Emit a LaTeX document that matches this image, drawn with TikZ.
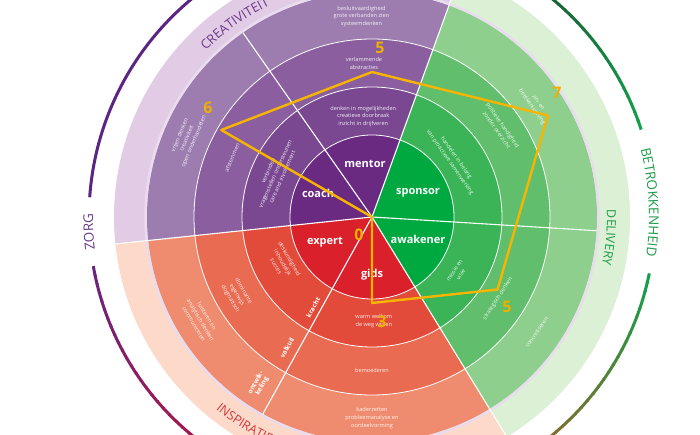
\documentclass[tikz,border=0pt]{standalone}
\usepackage{fontspec}
\setmainfont{Open Sans}
\usetikzlibrary{decorations.text}

\definecolor{purpleA}{HTML}{6A2A82}
\definecolor{purpleB}{HTML}{7A4891}
\definecolor{purpleC}{HTML}{8A5E9F}
\definecolor{purpleD}{HTML}{9D7CB0}
\definecolor{purpleE}{HTML}{E2CBE5}
\definecolor{redA}{HTML}{D9202B}
\definecolor{redB}{HTML}{E24B3A}
\definecolor{redC}{HTML}{E86B52}
\definecolor{redD}{HTML}{EF8C6F}
\definecolor{redE}{HTML}{FDD9C9}
\definecolor{greenA}{HTML}{00A940}
\definecolor{greenB}{HTML}{3BB357}
\definecolor{greenC}{HTML}{60BE6C}
\definecolor{greenD}{HTML}{8ECF8E}
\definecolor{greenE}{HTML}{DCF0D6}
\definecolor{lilacLine}{HTML}{EADCEF}
\definecolor{lineGold}{HTML}{F7B500}
\definecolor{scoreGold}{HTML}{EDB000}
\definecolor{labelPurple}{HTML}{6B3A8C}
\definecolor{labelGreen}{HTML}{1E9C48}
\definecolor{labelRed}{HTML}{D23A3C}
\definecolor{arcPurple}{HTML}{5C2483}
\definecolor{arcPlum}{HTML}{6B2480}
\definecolor{arcCrimson}{HTML}{A6174B}
\definecolor{arcDarkGreen}{HTML}{1B5E35}
\definecolor{arcGreen}{HTML}{12A04A}
\definecolor{arcOlive}{HTML}{8C6A2C}

\newcommand\wedgefill[4]{\fill[#1] (0,0) -- (#2:#4) arc (#2:#3:#4) -- cycle;}
\newcommand\bandfont{\fontsize{12.5}{12.5}\selectfont}
\newcommand\arcfont{\fontsize{13.5}{13.5}\selectfont}

\tikzset{
    % les six roles au milieu
    role/.style={font=\bfseries\fontsize{11}{11}\selectfont, text=white, inner sep=0pt},
    % les petits textes des anneaux
    ringtext/.style={font=\fontsize{5.6}{7.6}\selectfont, text=white, text opacity=0.9, align=center, inner sep=0pt},
    % kracht / valkuil / ontwikkeling
    edgeword/.style={font=\bfseries\fontsize{6.5}{7}\selectfont, text=white, align=center, inner sep=0pt},
    score/.style={font=\bfseries\fontsize{16}{16}\selectfont, text=scoreGold, inner sep=0pt},
    divider/.style={white, line width=1.1pt},
    ringline/.style={white, line width=0.8pt},
    profile/.style={draw=lineGold, line width=2.4pt, line join=round},
    outerarc/.style={line width=3pt}
}

\begin{document}
\begin{tikzpicture}[x=1pt,y=1pt]
    \useasboundingbox (-372pt,-218pt) rectangle (328pt,217pt);
    \clip (-372pt,-218pt) rectangle (328pt,217pt);

    % --- 1. Les secteurs, du plus grand au plus petit ---
    \foreach \r/\lvl in {258/E,225/D,178/C,130/B,82/A} {
        \wedgefill{purple\lvl}{70}{186}{\r pt}
        \wedgefill{red\lvl}{186}{301.5}{\r pt}
        \wedgefill{green\lvl}{301.5}{430}{\r pt}
    }

    % cercles entre les anneaux
    \foreach \r in {82,130,178} {
        \draw[ringline] (0,0) circle (\r pt);
    }
    \draw[lilacLine, line width=2.5pt] (0,0) circle (226.5pt);

    % lignes de separation
    \foreach \a in {70,186,301.5} {
        \draw[divider] (0,0) -- (\a:258pt);
    }
    \foreach \a in {125,241,356.5} {
        \draw[divider] (0,0) -- (\a:225pt);
    }

    % --- 2. Les arcs exterieurs (degrades) ---
    \draw[outerarc, arcPurple] (120:283pt) arc (120:176:283pt);
    \foreach \i in {0,...,23} {
        \pgfmathsetmacro\pct{100-100*\i/23}
        \draw[outerarc, arcPlum!\pct!arcCrimson] (190+\i*1.8:283pt) arc (190+\i*1.8:192.1+\i*1.8:283pt);
    }
    \foreach \i in {0,...,19} {
        \pgfmathsetmacro\pct{100-100*\i/19}
        \draw[outerarc, arcGreen!\pct!arcDarkGreen] (18+\i*1.8:283pt) arc (18+\i*1.8:20.1+\i*1.8:283pt);
    }
    \foreach \i in {0,...,23} {
        \pgfmathsetmacro\pct{100-100*\i/23}
        \draw[outerarc, arcGreen!\pct!arcOlive] (-11.5-\i*1.8:283pt) arc (-11.5-\i*1.8:-13.6-\i*1.8:283pt);
    }

    % --- 3. Les titres courbes ---
    \path[decorate, decoration={text along path, text color=labelPurple,
        text={|\fontsize{13}{13}\selectfont|CREATIVITEIT}}] (135:235pt) arc (135:95:235pt);
    \path[decorate, decoration={text along path, text color=labelGreen,
        text={|\bandfont|DELIVERY}, text align=center}] (12:235pt) arc (12:-22:235pt);
    \path[decorate, decoration={text along path, text color=labelRed,
        text={|\bandfont|INSPIRATIE}}] (231:248pt) arc (231:285:248pt);
    \path[decorate, decoration={text along path, text color=labelGreen,
        text={|\arcfont|BETROKKENHEID}, text align=center}] (27:277pt) arc (27:-21:277pt);
    \path[decorate, decoration={text along path, text color=labelPurple,
        text={|\arcfont|ZORG}, text align=center}] (198:279pt) arc (198:168:279pt);

    % --- 4. Les roles ---
    \node[role] (mentor)   at (-7,53)  {mentor};
    \node[role] (coach)    at (-54,24) {coach};
    \node[role] (expert)   at (-47,-25) {expert};
    \node[role] (gids)     at (0,-58)  {gids};
    \node[role] (sponsor)  at (46,24)  {sponsor};
    \node[role] (awakener) at (46,-22) {awakener};

    % --- 5. Les textes des anneaux ---
    % mentor
    \node[ringtext] (mentorB) at (95:101pt) {denken in mogelijkheden\\creatieve doorbraak\\inzicht in drijfveren};
    \node[ringtext] (mentorC) at (93:154pt) {verlammende\\abstracties};
    \node[ringtext] (mentorD) at (93:201pt) {besluitvaardigheid\\grote verbanden zien\\systeemdenken};
    % coach
    \node[ringtext, rotate=66] (coachB) at (156:106pt) {verbinden\\vragenstellen ondersteunen\\care and involvement};
    \node[ringtext, rotate=67] (coachC) at (157:152pt) {afstemmen};
    \node[ringtext, rotate=67] (coachD) at (157:201pt) {vrijen denken\\creativiteit\\open onderhandelen};
    % expert
    \node[ringtext, rotate=-60] (expertB) at (207:100pt) {deskundigheid\\inhoudelijk\\succes};
    \node[ringtext, rotate=-60] (expertC) at (210:156pt) {dominante\\eigenwijs\\dogmatisch};
    \node[ringtext, rotate=-59] (expertD) at (211:200pt) {luisteren en\\analytisch denken\\communiceren};
    % gids
    \node[ringtext] (gidsB) at (271:104pt) {warm welkom\\de weg wijzen};
    \node[ringtext] (gidsC) at (270:153pt) {bemoederen};
    \node[ringtext] (gidsD) at (270:201pt) {kaderzetten\\probleemanalyse en\\oordeelvorming};
    % sponsor
    \node[ringtext, rotate=-55] (sponsorB) at (35:99pt) {handelen in belang\\van proactieve samenwerking};
    \node[ringtext, rotate=-55] (sponsorC) at (35:156pt) {politieke handigheid\\zonder overzicht};
    \node[ringtext, rotate=-55] (sponsorD) at (34.5:198pt) {zin- en\\betekenisgeving};
    % awakener
    \node[ringtext, rotate=57] (awakenerB) at (-33:102pt) {missie en\\visie};
    \node[ringtext, rotate=57] (awakenerC) at (-33:150pt) {strategisch denken};
    \node[ringtext, rotate=55] (awakenerD) at (-35:201pt) {concretiseren};

    % kracht, valkuil, ontwikkeling
    \node[edgeword, rotate=61] (kracht)  at (237:108pt) {kracht};
    \node[edgeword, rotate=61] (valkuil) at (237:156pt) {valkuil};
    \node[edgeword, rotate=61] (ontwik)  at (236:202pt) {ontwik-\\keling};

    % --- 6. Le profil ---
    \coordinate (pmentor)   at (90:145pt);
    \coordinate (pcoach)    at (150:174pt);
    \coordinate (pexpert)   at (0,0);
    \coordinate (pgids)     at (270:86pt);
    \coordinate (pawakener) at (330:145pt);
    \coordinate (psponsor)  at (30:203pt);
    \draw[profile] (pcoach) -- (pexpert) -- (pgids) -- (pawakener) -- (psponsor) -- (pmentor) -- cycle;

    \node[score] (smentor)   at (8,169)    {5};
    \node[score] (scoach)    at (-164,109) {6};
    \node[score] (ssponsor)  at (185,124)  {7};
    \node[score] (sawakener) at (135,-90)  {5};
    \node[score] (sgids)     at (10,-105)  {3};
    \node[score] (sexpert)   at (-13,-18)  {0};

\end{tikzpicture}
\end{document}
